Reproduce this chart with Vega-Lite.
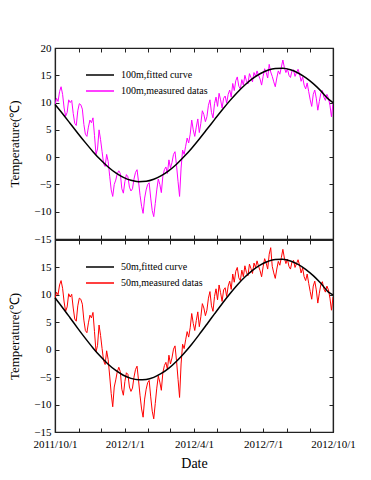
{
  "$schema": "https://vega.github.io/schema/vega-lite/v6.json",
  "padding": {"left": 8, "top": 41, "right": 10, "bottom": 5},
  "background": "white",
  "config": {
    "font": "Liberation Serif",
    "view": {"stroke": "#222", "strokeWidth": 1.2},
    "axis": {"domainColor": "#222", "domainWidth": 1.2, "tickColor": "#222", "tickWidth": 1, "tickSize": -4, "labelPadding": 8, "labelFont": "Liberation Serif", "labelFontSize": 11, "labelColor": "#000", "titleFont": "Liberation Serif", "titleFontWeight": "normal", "titleColor": "#000", "grid": false, "labelFlush": false, "labelOverlap": false},
    "legend": {"orient": "none", "legendX": 37, "legendY": 19, "symbolType": "M-2,0H2", "symbolSize": 196, "symbolStrokeWidth": 1.5, "labelFont": "Liberation Serif", "labelFontSize": 10, "labelColor": "#000", "labelOffset": 13, "rowPadding": 3, "padding": 0, "title": null}
  },
  "datasets": {
    "measured": [
      {"date":"2011-10-01","t100":9.6,"t50":9.3},{"date":"2011-10-03","t100":10.8,"t50":10.5},{"date":"2011-10-05","t100":10.2,"t50":10.0},{"date":"2011-10-07","t100":12.0,"t50":11.8},{"date":"2011-10-09","t100":12.9,"t50":12.6},{"date":"2011-10-11","t100":11.5,"t50":11.2},{"date":"2011-10-13","t100":9.0,"t50":8.7},{"date":"2011-10-15","t100":7.5,"t50":7.0},{"date":"2011-10-17","t100":8.2,"t50":7.8},{"date":"2011-10-19","t100":10.5,"t50":10.2},{"date":"2011-10-21","t100":10.0,"t50":9.6},{"date":"2011-10-23","t100":10.4,"t50":10.1},{"date":"2011-10-25","t100":8.0,"t50":7.6},{"date":"2011-10-27","t100":6.2,"t50":5.6},{"date":"2011-10-29","t100":5.8,"t50":5.2},{"date":"2011-10-31","t100":8.5,"t50":8.0},
      {"date":"2011-11-02","t100":9.8,"t50":9.4},{"date":"2011-11-04","t100":9.6,"t50":9.2},{"date":"2011-11-06","t100":8.8,"t50":8.3},{"date":"2011-11-08","t100":6.0,"t50":5.4},{"date":"2011-11-10","t100":4.2,"t50":3.5},{"date":"2011-11-12","t100":3.8,"t50":3.1},{"date":"2011-11-14","t100":5.5,"t50":4.9},{"date":"2011-11-16","t100":6.8,"t50":6.3},{"date":"2011-11-18","t100":6.3,"t50":5.8},{"date":"2011-11-20","t100":7.2,"t50":6.8},{"date":"2011-11-22","t100":4.0,"t50":3.3},{"date":"2011-11-24","t100":0.5,"t50":-0.4},{"date":"2011-11-26","t100":1.5,"t50":0.8},{"date":"2011-11-28","t100":5.0,"t50":4.5},{"date":"2011-11-30","t100":3.2,"t50":2.6},
      {"date":"2011-12-02","t100":1.0,"t50":0.2},{"date":"2011-12-04","t100":-1.2,"t50":-2.0},{"date":"2011-12-06","t100":-1.7,"t50":-2.7},{"date":"2011-12-08","t100":0.5,"t50":-0.2},{"date":"2011-12-10","t100":-0.8,"t50":-1.8},{"date":"2011-12-12","t100":-3.5,"t50":-4.8},{"date":"2011-12-14","t100":-6.0,"t50":-8.0},{"date":"2011-12-16","t100":-7.2,"t50":-10.4},{"date":"2011-12-18","t100":-5.0,"t50":-6.8},{"date":"2011-12-20","t100":-4.2,"t50":-5.5},{"date":"2011-12-22","t100":-3.0,"t50":-4.0},{"date":"2011-12-24","t100":-2.5,"t50":-3.2},{"date":"2011-12-26","t100":-3.0,"t50":-4.0},{"date":"2011-12-28","t100":-5.8,"t50":-7.2},{"date":"2011-12-30","t100":-6.6,"t50":-8.3},
      {"date":"2012-01-01","t100":-4.5,"t50":-5.8},{"date":"2012-01-03","t100":-3.2,"t50":-4.2},{"date":"2012-01-05","t100":-3.6,"t50":-4.5},{"date":"2012-01-07","t100":-5.5,"t50":-6.8},{"date":"2012-01-09","t100":-6.2,"t50":-7.6},{"date":"2012-01-11","t100":-5.8,"t50":-7.0},{"date":"2012-01-13","t100":-4.0,"t50":-5.0},{"date":"2012-01-15","t100":-2.8,"t50":-3.6},{"date":"2012-01-17","t100":-2.3,"t50":-3.0},{"date":"2012-01-19","t100":-4.5,"t50":-5.6},{"date":"2012-01-21","t100":-7.0,"t50":-8.4},{"date":"2012-01-23","t100":-9.0,"t50":-10.8},{"date":"2012-01-25","t100":-10.3,"t50":-12.3},{"date":"2012-01-27","t100":-7.5,"t50":-9.0},{"date":"2012-01-29","t100":-6.0,"t50":-7.2},{"date":"2012-01-31","t100":-5.0,"t50":-6.0},
      {"date":"2012-02-02","t100":-4.7,"t50":-5.6},{"date":"2012-02-04","t100":-7.5,"t50":-8.6},{"date":"2012-02-06","t100":-9.8,"t50":-11.2},{"date":"2012-02-08","t100":-10.9,"t50":-12.6},{"date":"2012-02-10","t100":-8.5,"t50":-9.8},{"date":"2012-02-12","t100":-6.0,"t50":-7.0},{"date":"2012-02-14","t100":-4.0,"t50":-4.8},{"date":"2012-02-16","t100":-5.0,"t50":-5.9},{"date":"2012-02-18","t100":-6.5,"t50":-7.4},{"date":"2012-02-20","t100":-3.5,"t50":-4.2},{"date":"2012-02-22","t100":-2.3,"t50":-2.9},{"date":"2012-02-24","t100":-1.8,"t50":-2.3},{"date":"2012-02-26","t100":-3.0,"t50":-3.6},{"date":"2012-02-28","t100":-0.5,"t50":-1.0},
      {"date":"2012-03-01","t100":-2.0,"t50":-2.6},{"date":"2012-03-03","t100":-1.0,"t50":-1.5},{"date":"2012-03-05","t100":0.5,"t50":0.1},{"date":"2012-03-07","t100":1.0,"t50":0.7},{"date":"2012-03-09","t100":-1.5,"t50":-2.0},{"date":"2012-03-11","t100":-4.5,"t50":-5.4},{"date":"2012-03-13","t100":-7.2,"t50":-8.7},{"date":"2012-03-15","t100":-2.0,"t50":-2.6},{"date":"2012-03-17","t100":1.3,"t50":1.0},{"date":"2012-03-19","t100":0.5,"t50":0.2},{"date":"2012-03-21","t100":2.0,"t50":1.8},{"date":"2012-03-23","t100":3.5,"t50":3.3},{"date":"2012-03-25","t100":2.6,"t50":2.3},{"date":"2012-03-27","t100":4.2,"t50":4.0},{"date":"2012-03-29","t100":6.8,"t50":6.6},{"date":"2012-03-31","t100":5.0,"t50":4.8},
      {"date":"2012-04-02","t100":3.8,"t50":3.5},{"date":"2012-04-04","t100":5.5,"t50":5.3},{"date":"2012-04-06","t100":7.0,"t50":6.9},{"date":"2012-04-08","t100":4.5,"t50":4.2},{"date":"2012-04-10","t100":6.2,"t50":6.0},{"date":"2012-04-12","t100":8.5,"t50":8.4},{"date":"2012-04-14","t100":7.8,"t50":7.6},{"date":"2012-04-16","t100":6.5,"t50":6.2},{"date":"2012-04-18","t100":7.4,"t50":7.2},{"date":"2012-04-20","t100":9.5,"t50":9.4},{"date":"2012-04-22","t100":10.5,"t50":10.6},{"date":"2012-04-24","t100":8.2,"t50":8.0},{"date":"2012-04-26","t100":7.2,"t50":7.0},{"date":"2012-04-28","t100":9.8,"t50":9.7},{"date":"2012-04-30","t100":11.0,"t50":11.1},
      {"date":"2012-05-02","t100":9.3,"t50":9.1},{"date":"2012-05-04","t100":11.7,"t50":11.8},{"date":"2012-05-06","t100":10.5,"t50":10.4},{"date":"2012-05-08","t100":9.0,"t50":8.8},{"date":"2012-05-10","t100":10.8,"t50":10.9},{"date":"2012-05-12","t100":11.2,"t50":11.3},{"date":"2012-05-14","t100":9.9,"t50":9.7},{"date":"2012-05-16","t100":11.5,"t50":11.6},{"date":"2012-05-18","t100":12.3,"t50":12.5},{"date":"2012-05-20","t100":11.0,"t50":11.0},{"date":"2012-05-22","t100":13.5,"t50":13.8},{"date":"2012-05-24","t100":12.2,"t50":12.3},{"date":"2012-05-26","t100":14.0,"t50":14.3},{"date":"2012-05-28","t100":14.7,"t50":15.0},{"date":"2012-05-30","t100":13.0,"t50":13.1},
      {"date":"2012-06-01","t100":12.5,"t50":12.6},{"date":"2012-06-03","t100":14.2,"t50":14.5},{"date":"2012-06-05","t100":13.2,"t50":13.3},{"date":"2012-06-07","t100":15.0,"t50":15.3},{"date":"2012-06-09","t100":14.0,"t50":14.1},{"date":"2012-06-11","t100":13.4,"t50":13.5},{"date":"2012-06-13","t100":15.3,"t50":15.6},{"date":"2012-06-15","t100":14.6,"t50":14.8},{"date":"2012-06-17","t100":13.8,"t50":13.9},{"date":"2012-06-19","t100":15.5,"t50":15.8},{"date":"2012-06-21","t100":14.8,"t50":15.0},{"date":"2012-06-23","t100":15.8,"t50":16.2},{"date":"2012-06-25","t100":15.0,"t50":15.2},{"date":"2012-06-27","t100":14.3,"t50":14.4},{"date":"2012-06-29","t100":13.2,"t50":13.3},
      {"date":"2012-07-01","t100":14.8,"t50":15.1},{"date":"2012-07-03","t100":16.2,"t50":16.6},{"date":"2012-07-05","t100":15.5,"t50":15.8},{"date":"2012-07-07","t100":14.5,"t50":14.7},{"date":"2012-07-09","t100":17.0,"t50":17.4},{"date":"2012-07-11","t100":15.6,"t50":18.6},{"date":"2012-07-13","t100":14.8,"t50":15.2},{"date":"2012-07-15","t100":13.8,"t50":14.0},{"date":"2012-07-17","t100":12.9,"t50":13.0},{"date":"2012-07-19","t100":14.5,"t50":14.7},{"date":"2012-07-21","t100":15.8,"t50":16.1},{"date":"2012-07-23","t100":15.2,"t50":15.4},{"date":"2012-07-25","t100":16.5,"t50":16.8},{"date":"2012-07-27","t100":17.8,"t50":18.3},{"date":"2012-07-29","t100":16.4,"t50":16.7},{"date":"2012-07-31","t100":15.5,"t50":15.7},
      {"date":"2012-08-02","t100":16.2,"t50":16.5},{"date":"2012-08-04","t100":15.0,"t50":15.2},{"date":"2012-08-06","t100":14.6,"t50":14.7},{"date":"2012-08-08","t100":15.8,"t50":16.0},{"date":"2012-08-10","t100":16.0,"t50":16.3},{"date":"2012-08-12","t100":14.8,"t50":15.0},{"date":"2012-08-14","t100":15.5,"t50":15.7},{"date":"2012-08-16","t100":16.1,"t50":16.4},{"date":"2012-08-18","t100":15.2,"t50":15.4},{"date":"2012-08-20","t100":13.9,"t50":14.0},{"date":"2012-08-22","t100":14.7,"t50":14.9},{"date":"2012-08-24","t100":13.2,"t50":13.3},{"date":"2012-08-26","t100":12.5,"t50":12.6},{"date":"2012-08-28","t100":13.6,"t50":13.8},{"date":"2012-08-30","t100":12.0,"t50":12.1},
      {"date":"2012-09-01","t100":10.5,"t50":10.6},{"date":"2012-09-03","t100":9.3,"t50":9.2},{"date":"2012-09-05","t100":11.5,"t50":11.6},{"date":"2012-09-07","t100":12.3,"t50":12.5},{"date":"2012-09-09","t100":10.8,"t50":10.9},{"date":"2012-09-11","t100":8.6,"t50":8.5},{"date":"2012-09-13","t100":10.2,"t50":10.3},{"date":"2012-09-15","t100":11.7,"t50":11.9},{"date":"2012-09-17","t100":12.2,"t50":12.4},{"date":"2012-09-19","t100":11.0,"t50":11.1},{"date":"2012-09-21","t100":10.4,"t50":10.5},{"date":"2012-09-23","t100":11.5,"t50":11.6},{"date":"2012-09-25","t100":10.8,"t50":10.9},{"date":"2012-09-27","t100":9.5,"t50":9.4},{"date":"2012-09-29","t100":7.4,"t50":7.2},
      {"date":"2012-10-01","t100":9.8,"t50":9.6}
    ],
    "fitted": [
      {"date":"2011-10-01","f100":9.65,"f50":9.47},{"date":"2011-10-11","f100":7.94,"f50":7.66},{"date":"2011-10-21","f100":6.17,"f50":5.79},{"date":"2011-10-31","f100":4.39,"f50":3.9},{"date":"2011-11-10","f100":2.66,"f50":2.07},{"date":"2011-11-20","f100":1.01,"f50":0.33},{"date":"2011-11-30","f100":-0.49,"f50":-1.25},{"date":"2011-12-10","f100":-1.8,"f50":-2.64},{"date":"2011-12-20","f100":-2.88,"f50":-3.78},{"date":"2011-12-30","f100":-3.7,"f50":-4.65},{"date":"2012-01-09","f100":-4.24,"f50":-5.23},{"date":"2012-01-19","f100":-4.49,"f50":-5.49},{"date":"2012-01-29","f100":-4.43,"f50":-5.42},{"date":"2012-02-08","f100":-4.06,"f50":-5.04},{"date":"2012-02-18","f100":-3.4,"f50":-4.33},{"date":"2012-02-28","f100":-2.47,"f50":-3.36},{"date":"2012-03-09","f100":-1.3,"f50":-2.11},{"date":"2012-03-19","f100":0.1,"f50":-0.64},{"date":"2012-03-29","f100":1.65,"f50":1.0},{"date":"2012-04-08","f100":3.34,"f50":2.79},{"date":"2012-04-18","f100":5.1,"f50":4.65},{"date":"2012-04-28","f100":6.88,"f50":6.53},{"date":"2012-05-08","f100":8.64,"f50":8.39},{"date":"2012-05-18","f100":10.31,"f50":10.16},{"date":"2012-05-28","f100":11.86,"f50":11.8},{"date":"2012-06-07","f100":13.22,"f50":13.24},{"date":"2012-06-17","f100":14.38,"f50":14.47},{"date":"2012-06-27","f100":15.28,"f50":15.42},{"date":"2012-07-07","f100":15.92,"f50":16.09},{"date":"2012-07-17","f100":16.25,"f50":16.45},{"date":"2012-07-27","f100":16.27,"f50":16.47},{"date":"2012-08-06","f100":16.0,"f50":16.18},{"date":"2012-08-16","f100":15.42,"f50":15.57},{"date":"2012-08-26","f100":14.56,"f50":14.66},{"date":"2012-09-05","f100":13.46,"f50":13.5},{"date":"2012-09-15","f100":12.14,"f50":12.1},{"date":"2012-09-25","f100":10.63,"f50":10.51},{"date":"2012-10-01","f100":10.0,"f50":10.0}
    ]
  },
  "spacing": 1,
  "bounds": "flush",
  "resolve": {"scale": {"color": "independent"}, "legend": {"color": "independent"}},
  "vconcat": [
    {
      "width": 278,
      "height": 191,
      "resolve": {"axis": {"x": "independent", "y": "independent"}},
      "layer": [
        {
          "data": {"name": "measured"},
          "mark": {"type": "line", "strokeWidth": 1, "clip": true},
          "encoding": {
            "x": {"field": "date", "type": "temporal", "scale": {"type": "utc", "domain": [{"year": 2011, "month": 10, "date": 1, "utc": true}, {"year": 2012, "month": 10, "date": 1, "utc": true}]},
              "axis": {"orient": "bottom", "labels": false, "title": null, "minExtent": 0, "maxExtent": 0, "values": [{"year":2011,"month":10,"date":1,"utc":true},{"year":2011,"month":11,"date":1,"utc":true},{"year":2011,"month":12,"date":1,"utc":true},{"year":2012,"month":1,"date":1,"utc":true},{"year":2012,"month":2,"date":1,"utc":true},{"year":2012,"month":3,"date":1,"utc":true},{"year":2012,"month":4,"date":1,"utc":true},{"year":2012,"month":5,"date":1,"utc":true},{"year":2012,"month":6,"date":1,"utc":true},{"year":2012,"month":7,"date":1,"utc":true},{"year":2012,"month":8,"date":1,"utc":true},{"year":2012,"month":9,"date":1,"utc":true},{"year":2012,"month":10,"date":1,"utc":true}]}},
            "y": {"field": "t100", "type": "quantitative", "scale": {"domain": [-15, 20], "nice": false, "zero": false},
              "axis": {"orient": "left", "values": [-15, -10, -5, 0, 5, 10, 15, 20], "title": "Temperature(℃)", "titleFontSize": 13, "titlePadding": 12}},
            "color": {"datum": "100m,measured datas", "scale": {"domain": ["100m,fitted curve", "100m,measured datas"], "range": ["#000000", "#ff00ff"]}}
          }
        },
        {
          "data": {"name": "fitted"},
          "mark": {"type": "line", "strokeWidth": 1.5, "interpolate": "monotone"},
          "encoding": {
            "x": {"field": "date", "type": "temporal",
              "axis": {"orient": "top", "labels": false, "title": null, "minExtent": 0, "maxExtent": 0, "values": [{"year":2011,"month":10,"date":1,"utc":true},{"year":2011,"month":11,"date":1,"utc":true},{"year":2011,"month":12,"date":1,"utc":true},{"year":2012,"month":1,"date":1,"utc":true},{"year":2012,"month":2,"date":1,"utc":true},{"year":2012,"month":3,"date":1,"utc":true},{"year":2012,"month":4,"date":1,"utc":true},{"year":2012,"month":5,"date":1,"utc":true},{"year":2012,"month":6,"date":1,"utc":true},{"year":2012,"month":7,"date":1,"utc":true},{"year":2012,"month":8,"date":1,"utc":true},{"year":2012,"month":9,"date":1,"utc":true},{"year":2012,"month":10,"date":1,"utc":true}]}},
            "y": {"field": "f100", "type": "quantitative",
              "axis": {"orient": "right", "labels": false, "title": null, "minExtent": 0, "maxExtent": 0, "values": [-15, -10, -5, 0, 5, 10, 15, 20]}},
            "color": {"datum": "100m,fitted curve"}
          }
        }
      ]
    },
    {
      "width": 278,
      "height": 192,
      "resolve": {"axis": {"x": "independent", "y": "independent"}},
      "layer": [
        {
          "data": {"name": "measured"},
          "mark": {"type": "line", "strokeWidth": 1, "clip": true},
          "encoding": {
            "x": {"field": "date", "type": "temporal", "scale": {"type": "utc", "domain": [{"year": 2011, "month": 10, "date": 1, "utc": true}, {"year": 2012, "month": 10, "date": 1, "utc": true}]},
              "axis": {"orient": "bottom", "title": "Date", "titleFontSize": 14, "titlePadding": 7, "labelPadding": 10, "labelExpr": "utcmonth(datum.value) % 3 == 0 ? utcFormat(datum.value, '%Y/%-m/%-d') : ''", "values": [{"year":2011,"month":10,"date":1,"utc":true},{"year":2011,"month":11,"date":1,"utc":true},{"year":2011,"month":12,"date":1,"utc":true},{"year":2012,"month":1,"date":1,"utc":true},{"year":2012,"month":2,"date":1,"utc":true},{"year":2012,"month":3,"date":1,"utc":true},{"year":2012,"month":4,"date":1,"utc":true},{"year":2012,"month":5,"date":1,"utc":true},{"year":2012,"month":6,"date":1,"utc":true},{"year":2012,"month":7,"date":1,"utc":true},{"year":2012,"month":8,"date":1,"utc":true},{"year":2012,"month":9,"date":1,"utc":true},{"year":2012,"month":10,"date":1,"utc":true}]}},
            "y": {"field": "t50", "type": "quantitative", "scale": {"domain": [-15, 20], "nice": false, "zero": false},
              "axis": {"orient": "left", "values": [-15, -10, -5, 0, 5, 10, 15, 20], "labelExpr": "datum.value == 20 ? '' : datum.label", "title": "Temperature(℃)", "titleFontSize": 13, "titlePadding": 12}},
            "color": {"datum": "50m,measured datas", "scale": {"domain": ["50m,fitted curve", "50m,measured datas"], "range": ["#000000", "#ff0000"]}}
          }
        },
        {
          "data": {"name": "fitted"},
          "mark": {"type": "line", "strokeWidth": 1.5, "interpolate": "monotone"},
          "encoding": {
            "x": {"field": "date", "type": "temporal",
              "axis": {"orient": "top", "labels": false, "title": null, "minExtent": 0, "maxExtent": 0, "values": [{"year":2011,"month":10,"date":1,"utc":true},{"year":2011,"month":11,"date":1,"utc":true},{"year":2011,"month":12,"date":1,"utc":true},{"year":2012,"month":1,"date":1,"utc":true},{"year":2012,"month":2,"date":1,"utc":true},{"year":2012,"month":3,"date":1,"utc":true},{"year":2012,"month":4,"date":1,"utc":true},{"year":2012,"month":5,"date":1,"utc":true},{"year":2012,"month":6,"date":1,"utc":true},{"year":2012,"month":7,"date":1,"utc":true},{"year":2012,"month":8,"date":1,"utc":true},{"year":2012,"month":9,"date":1,"utc":true},{"year":2012,"month":10,"date":1,"utc":true}]}},
            "y": {"field": "f50", "type": "quantitative",
              "axis": {"orient": "right", "labels": false, "title": null, "minExtent": 0, "maxExtent": 0, "values": [-15, -10, -5, 0, 5, 10, 15, 20]}},
            "color": {"datum": "50m,fitted curve"}
          }
        }
      ]
    }
  ]
}
